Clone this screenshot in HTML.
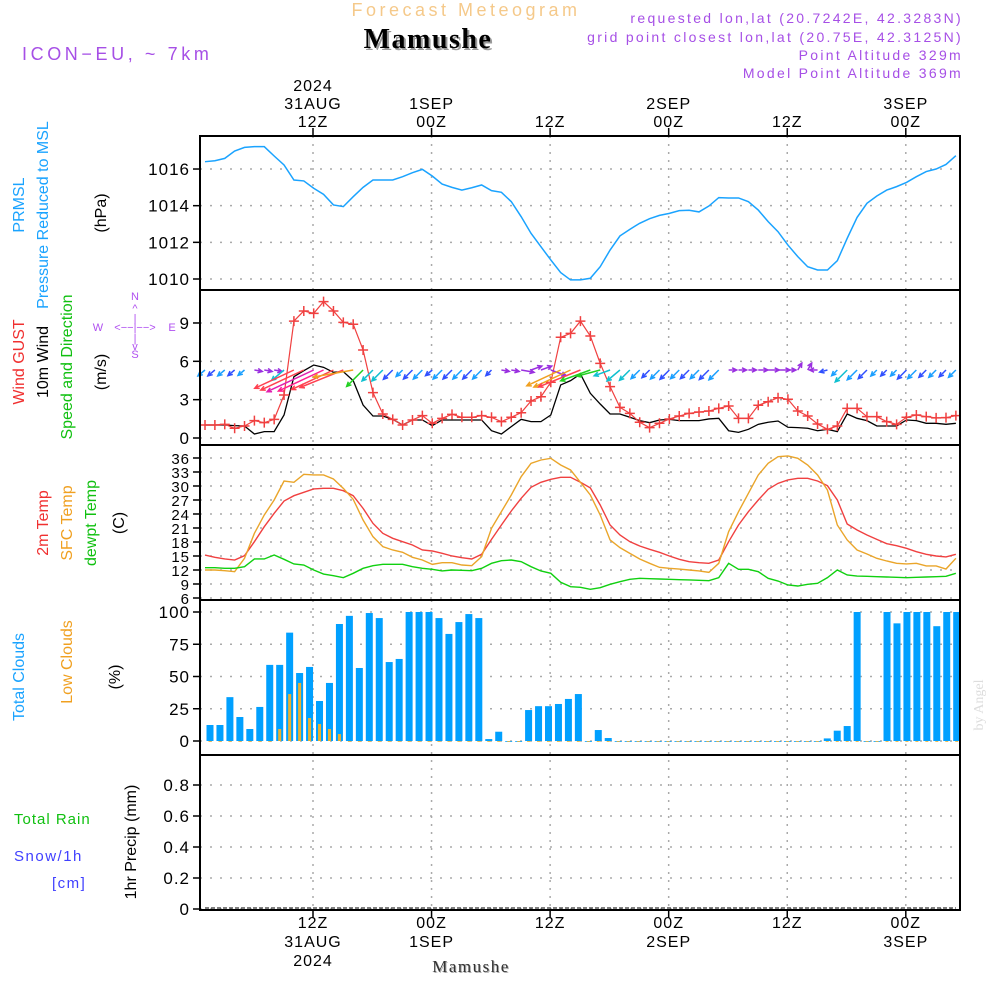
<!DOCTYPE html>
<html><head><meta charset="utf-8"><style>
html,body{margin:0;padding:0;background:#fff;}
svg{display:block;font-family:"Liberation Sans",sans-serif;}
</style></head><body>
<svg id="chart" width="1000" height="1000" viewBox="0 0 1000 1000" xmlns="http://www.w3.org/2000/svg">
<rect width="1000" height="1000" fill="#fff"/>
<g>
<text x="466" y="16" text-anchor="middle" font-size="18" letter-spacing="3.5" fill="#f5c98a">Forecast Meteogram</text>
<text x="430" y="50" text-anchor="middle" font-size="28" font-weight="bold" font-family="Liberation Serif,serif" letter-spacing="1.5" fill="#999">Mamushe</text>
<text x="428" y="48" text-anchor="middle" font-size="28" font-weight="bold" font-family="Liberation Serif,serif" letter-spacing="1.5" fill="#000">Mamushe</text>
<text x="22" y="60" font-size="18" letter-spacing="3.6" fill="#a64fe6">ICON−EU, ~ 7km</text>
<g font-size="14" letter-spacing="2.3" fill="#a64fe6" text-anchor="end">
<text x="963" y="23">requested lon,lat (20.7242E, 42.3283N)</text>
<text x="963" y="42">grid point closest lon,lat (20.75E, 42.3125N)</text>
<text x="963" y="60">Point Altitude 329m</text>
<text x="963" y="78">Model Point Altitude 369m</text>
</g>
</g>
<g font-size="16">
<text transform="translate(24,205) rotate(-90)" text-anchor="middle" fill="#1aa3ff">PRMSL</text>
<text transform="translate(48,215) rotate(-90)" text-anchor="middle" fill="#1aa3ff">Pressure Reduced to MSL</text>
<text transform="translate(106,213) rotate(-90)" text-anchor="middle" fill="#000">(hPa)</text>
<text transform="translate(24,362) rotate(-90)" text-anchor="middle" fill="#f03030">Wind GUST</text>
<text transform="translate(48,362) rotate(-90)" text-anchor="middle" fill="#000">10m Wind</text>
<text transform="translate(72,367) rotate(-90)" text-anchor="middle" fill="#10c010">Speed and Direction</text>
<text transform="translate(106,372) rotate(-90)" text-anchor="middle" fill="#000">(m/s)</text>
<g font-size="11" fill="#b050f0" text-anchor="middle">
<text x="135" y="300">N</text><text x="135" y="312">^</text><text x="135" y="322">|</text>
<text x="98" y="331">W</text><text x="135" y="331">&lt;−−|−−&gt;</text><text x="172" y="331">E</text>
<text x="135" y="342">|</text><text x="135" y="350">v</text><text x="135" y="358">S</text>
</g>
<text transform="translate(48,523) rotate(-90)" text-anchor="middle" fill="#f03030">2m Temp</text>
<text transform="translate(72,523) rotate(-90)" text-anchor="middle" fill="#f0a020">SFC Temp</text>
<text transform="translate(96,523) rotate(-90)" text-anchor="middle" fill="#10c010">dewpt Temp</text>
<text transform="translate(124,523) rotate(-90)" text-anchor="middle" fill="#000">(C)</text>
<text transform="translate(24,677) rotate(-90)" text-anchor="middle" fill="#1aa3ff">Total Clouds</text>
<text transform="translate(72,662) rotate(-90)" text-anchor="middle" fill="#f0a020">Low Clouds</text>
<text transform="translate(120,677) rotate(-90)" text-anchor="middle" fill="#000">(%)</text>
<text x="14" y="824" fill="#10c010" letter-spacing="1" font-size="15">Total  Rain</text>
<text x="14" y="861" fill="#4040ff" letter-spacing="1.5" font-size="15">Snow/1h</text>
<text x="52" y="888" fill="#4040ff" letter-spacing="1.5" font-size="15">[cm]</text>
<text transform="translate(136,842) rotate(-90)" text-anchor="middle" fill="#000">1hr Precip (mm)</text>
</g>
<text transform="translate(983,705) rotate(-90)" text-anchor="middle" font-size="14" font-family="Liberation Serif,serif" fill="#ddd">by Angel</text>
<text x="472" y="973" text-anchor="middle" font-size="17" letter-spacing="1.5" font-family="Liberation Serif,serif" fill="#aaa">Mamushe</text>
<text x="471" y="972" text-anchor="middle" font-size="17" letter-spacing="1.5" font-family="Liberation Serif,serif" fill="#333">Mamushe</text>
<g id="plot"></g>
</svg>
<script>
const pressure=[1016.40,1016.45,1016.58,1016.98,1017.18,1017.22,1017.22,1016.71,1016.22,1015.40,1015.35,1014.95,1014.62,1014.04,1013.95,1014.49,1015.00,1015.40,1015.40,1015.40,1015.58,1015.80,1015.98,1015.62,1015.18,1015.00,1014.85,1014.98,1015.13,1014.82,1014.73,1014.22,1013.40,1012.49,1011.76,1011.04,1010.35,1009.95,1009.95,1010.04,1010.67,1011.58,1012.35,1012.71,1013.04,1013.29,1013.47,1013.58,1013.73,1013.75,1013.66,1013.98,1014.44,1014.42,1014.42,1014.22,1013.76,1013.13,1012.58,1011.85,1011.22,1010.67,1010.49,1010.49,1011.00,1012.22,1013.36,1014.13,1014.53,1014.85,1015.04,1015.27,1015.58,1015.86,1016.00,1016.25,1016.73];
const windGust=[1.02,1.02,1.07,0.76,0.94,1.36,1.20,1.46,3.36,9.15,9.94,9.75,10.67,9.94,9.05,8.90,6.89,3.55,1.88,1.46,1.02,1.41,1.75,1.15,1.54,1.85,1.62,1.62,1.75,1.62,1.28,1.62,1.98,2.90,3.23,4.36,7.88,8.19,9.15,7.98,5.84,4.02,2.40,1.93,1.23,0.81,1.15,1.49,1.72,1.93,2.03,2.11,2.32,2.50,1.54,1.54,2.56,2.84,3.15,3.03,2.11,1.72,1.10,0.68,0.94,2.32,2.32,1.67,1.67,1.28,1.07,1.62,1.80,1.67,1.57,1.59,1.75];
const wind10m=[1.02,1.02,1.02,0.97,0.94,0.31,0.50,0.50,1.80,4.80,5.27,5.71,5.53,5.14,5.19,4.49,2.58,1.72,1.72,1.46,1.02,1.41,1.41,0.97,1.41,1.41,1.41,1.41,1.41,0.57,0.31,0.89,1.46,1.28,1.28,1.80,4.15,4.49,5.01,3.50,2.66,1.88,1.88,1.62,1.36,1.20,1.41,1.46,1.36,1.36,1.36,1.49,1.54,0.57,0.44,0.68,1.07,1.23,1.33,0.84,0.81,0.76,0.57,0.68,0.50,1.88,1.54,1.36,0.94,0.94,0.94,1.41,1.36,1.15,1.15,1.07,1.15];
const windDir=[140,140,140,140,140,10,10,10,140,155,155,155,155,155,158,170,135,135,135,135,135,135,135,140,135,135,135,135,135,135,10,10,10,-20,-20,20,155,155,158,160,165,160,140,135,135,135,135,135,135,135,135,135,135,0,0,0,0,0,0,0,-60,-60,180,165,135,135,135,135,135,135,135,135,135,135,135,135,135];
const temp2m=[15.21,14.72,14.36,14.14,15.07,18.07,21.28,24.14,26.78,27.92,28.64,29.36,29.50,29.50,28.99,27.92,25.21,22.00,19.86,18.79,18.07,17.36,16.29,16.07,15.57,15.00,14.64,14.36,15.36,18.57,21.64,24.64,27.36,29.72,30.79,31.43,31.86,31.86,30.79,29.60,25.93,21.64,19.50,18.07,17.14,16.43,15.79,15.00,14.29,13.79,13.57,13.43,14.14,18.07,21.64,24.50,27.00,29.29,30.57,31.29,31.64,31.64,31.07,30.07,27.00,21.86,20.57,19.50,18.57,17.64,17.21,16.64,15.93,15.36,15.00,14.79,15.36];
const tempSfc=[12.0,12.0,11.86,11.64,14.50,19.86,23.79,27.0,31.07,30.79,32.50,32.36,32.36,31.50,29.50,27.14,22.71,19.14,17.00,16.29,15.79,14.72,14.14,13.21,13.57,13.57,13.07,12.93,14.86,20.93,24.50,28.07,32.00,34.86,35.57,35.93,34.50,33.43,30.79,28.07,23.79,18.43,16.79,15.57,14.36,13.43,12.57,12.36,12.21,12.0,11.79,11.50,13.43,20.21,24.50,28.43,32.36,34.86,36.29,36.43,35.93,34.50,32.36,29.14,21.64,18.43,16.29,15.43,14.50,13.93,13.43,13.29,13.43,12.86,12.86,12.21,14.50];
const dewpt=[12.50,12.50,12.36,12.36,12.71,14.36,14.36,15.21,14.29,13.29,13.07,12.0,11.14,10.79,10.36,11.29,12.36,12.93,13.21,13.21,13.21,12.71,12.36,12.14,11.79,12.0,11.93,11.86,12.36,13.43,14.0,14.14,13.79,12.71,11.79,11.29,9.36,8.43,8.29,7.86,8.21,8.93,9.50,10.0,10.21,10.14,10.07,10.0,9.93,9.86,9.79,9.71,10.36,13.43,12.14,12.14,11.64,10.21,9.64,8.79,8.57,8.93,9.14,10.36,12.0,10.93,10.71,10.64,10.57,10.5,10.43,10.36,10.43,10.5,10.57,10.64,11.29];
const totalClouds=[12.4,12.4,34,18.6,9.3,26.4,59,59,84,52.7,57.4,31,45,90.7,97,56.6,99.2,95.3,61.2,63.6,100,100,100,95.3,83,92.2,98.4,95.3,1.5,7.2,0,0,24,27,27,28.7,32.6,36.4,0,8.5,2.3,0,0,0,0,0,0,0,0,0,0,0,0,0,0,0,0,0,0,0,0,0,2,8,11.6,100,0,0,100,91.2,100,100,100,89,100,100];
const lowClouds=[0,0,0,0,0,0,0,9.3,36.4,45,17.8,13.2,9.3,5.4,0,0,0,0,0,0,0,0,0,0,0,0,0,0,0,0,0,0,0,0,0,0,0,0,0,0,0,0,0,0,0,0,0,0,0,0,0,0,0,0,0,0,0,0,0,0,0,0,0,0,0,0,0,0,0,0,0,0,0,0,0,0];
const precip=[0,0,0,0,0,0,0,0,0,0,0,0,0,0,0,0,0,0,0,0,0,0,0,0,0,0,0,0,0,0,0,0,0,0,0,0,0,0,0,0,0,0,0,0,0,0,0,0,0,0,0,0,0,0,0,0,0,0,0,0,0,0,0,0,0,0,0,0,0,0,0,0,0,0,0,0,0];
const pressTicks=[1010,1012,1014,1016];
const windTicks=[0,3,6,9];
const tempTicks=[6,9,12,15,18,21,24,27,30,33,36];
const cloudTicks=[0,25,50,75,100];
const precipTicks=["0","0.2","0.4","0.6","0.8"];
const timeHours=[0,12,24,36,48,60];
const topLabels=[["2024","31AUG","12Z"],["","1SEP","00Z"],["","","12Z"],["","2SEP","00Z"],["","","12Z"],["","3SEP","00Z"]];
const bottomLabels=[["12Z","31AUG","2024"],["00Z","1SEP",""],["12Z","",""],["00Z","2SEP",""],["12Z","",""],["00Z","3SEP",""]];

const NS="http://www.w3.org/2000/svg";
const plot=document.getElementById('plot');
function mk(tag,attrs,parent){const e=document.createElementNS(NS,tag);for(const k in attrs)e.setAttribute(k,attrs[k]);(parent||plot).appendChild(e);return e;}
const L=200,R=960;
const xLine=i=>205+i*9.88;
const xBar=i=>210+i*9.956;
const xTime=h=>313+h*9.88;
const yP=p=>279-(p-1010)*18.33;
const yW=v=>438-v*12.78;
const yT=t=>598-(t-6)*4.667;
const yC=c=>741-c*1.29;
const yR=r=>909-r*155;
const panels=[[136,290],[290,445],[445,600],[600,755],[755,910]];

const grid=mk('g',{});


function hgrid(y){mk('line',{x1:L,x2:R,y1:y,y2:y,stroke:'#aaa','stroke-width':1.5,'stroke-dasharray':'2,8'},grid);}
pressTicks.forEach(v=>hgrid(yP(v)));
windTicks.forEach(v=>hgrid(yW(v)));
tempTicks.forEach(v=>hgrid(yT(v)));
cloudTicks.forEach(v=>hgrid(yC(v)));
precipTicks.forEach(v=>hgrid(yR(+v)));
timeHours.forEach(h=>{mk('line',{x1:xTime(h),x2:xTime(h),y1:136,y2:910,stroke:'#aaa','stroke-width':1.5,'stroke-dasharray':'2,6'},grid);
 mk('line',{x1:xTime(h),x2:xTime(h),y1:128,y2:136,stroke:'#000','stroke-width':1.5},grid);
 mk('line',{x1:xTime(h),x2:xTime(h),y1:910,y2:918,stroke:'#000','stroke-width':1.5},grid);});

const ticks=mk('g',{'font-size':17,'text-anchor':'end',fill:'#000','letter-spacing':1});


function ytick(y,label,fs){const t=mk('text',{x:190,y:y+6,'font-size':fs||17},ticks);t.textContent=label;mk('line',{x1:193,x2:200,y1:y,y2:y,stroke:'#000','stroke-width':1.5},ticks);}
pressTicks.forEach(v=>ytick(yP(v),v));
windTicks.forEach(v=>ytick(yW(v),v));
tempTicks.forEach(v=>ytick(yT(v),v,15));
cloudTicks.forEach(v=>ytick(yC(v),v));
precipTicks.forEach(v=>ytick(yR(+v),v));
const tl=mk('g',{'font-size':16,'text-anchor':'middle',fill:'#000','letter-spacing':1});


timeHours.forEach((h,k)=>{
 topLabels[k].forEach((s,j)=>{if(!s)return;const t=mk('text',{x:xTime(h),y:91+j*18},tl);t.textContent=s;});
 bottomLabels[k].forEach((s,j)=>{if(!s)return;const t=mk('text',{x:xTime(h),y:928+j*19},tl);t.textContent=s;});
});

const pl=mk('polyline',{points:pressure.map((v,i)=>xLine(i)+','+yP(v)).join(' '),fill:'none',stroke:'#1aa3ff','stroke-width':1.5});



const wl=mk('polyline',{points:wind10m.map((v,i)=>xLine(i)+','+yW(v)).join(' '),fill:'none',stroke:'#000','stroke-width':1.3});


const gl=mk('polyline',{points:windGust.map((v,i)=>xLine(i)+','+yW(v)).join(' '),fill:'none',stroke:'#f04040','stroke-width':1.2});


windGust.forEach((v,i)=>{const x=xLine(i),y=yW(v);
 const m=mk('path',{d:`M${x-5},${y}H${x+5}M${x},${y-5}V${y+5}`,stroke:'#f04040','stroke-width':1.5});
 
 });
function arrowColor(s,d,i){
 if(d<60&&d>-90)return '#9a30e0';
 if(d>=175)return '#9a30e0';
 if(s>5.3)return ['#ff2090','#e020b0'][i%2];
 if(s>4.6)return '#ff4050';
 if(s>3.6)return '#f0a020';
 if(s>2.2)return '#20d020';
 if(s>1.6)return '#10c0d0';
 return ['#1a9fff','#3050ff'][i%2];
}
wind10m.forEach((s,i)=>{
 const d=windDir[i]*Math.PI/180;
 const len=Math.max(8,s*9);
 const x0=xLine(i),y0=370;
 const x1=x0+Math.cos(d)*len,y1=y0+Math.sin(d)*len;
 const a1=d+Math.PI-0.45,a2=d+Math.PI+0.45,h=5;
 const c=arrowColor(s,windDir[i],i);
 const p=mk('path',{d:`M${x0},${y0}L${x1},${y1}M${x1+Math.cos(a1)*h},${y1+Math.sin(a1)*h}L${x1},${y1}L${x1+Math.cos(a2)*h},${y1+Math.sin(a2)*h}`,stroke:c,'stroke-width':1.5,fill:'none'});
 
 
});

[[temp2m,'#f04040','temp-2m-line'],[tempSfc,'#eaa52a','sfc-temp-line'],[dewpt,'#10d010','dewpoint-line']].forEach(([arr,c,n])=>{
 const l=mk('polyline',{points:arr.map((v,i)=>xLine(i)+','+yT(v)).join(' '),fill:'none',stroke:c,'stroke-width':1.4});
 
 
});

totalClouds.forEach((v,i)=>{const xc=xBar(i);
 const b=mk('rect',{x:xc-3.5,y:yC(v),width:7,height:Math.max(0.8,741-yC(v)),fill:'#00a0ff'});
 
 });
lowClouds.forEach((v,i)=>{const xc=xBar(i);
 const b=mk('rect',{x:xc-1.5,y:yC(v),width:3,height:Math.max(0.8,741-yC(v)),fill:'#eab030'});
 
 });

const rl=mk('polyline',{points:precip.map((v,i)=>xLine(i)+','+(yR(v)-1)).join(' '),fill:'none',stroke:'#333','stroke-width':1.2,'stroke-dasharray':'4,2'});



panels.forEach(([t,b],k)=>{const r=mk('rect',{x:L,y:t,width:R-L,height:b-t,fill:'none',stroke:'#000','stroke-width':2});
 
 });
</script>
</body></html>
